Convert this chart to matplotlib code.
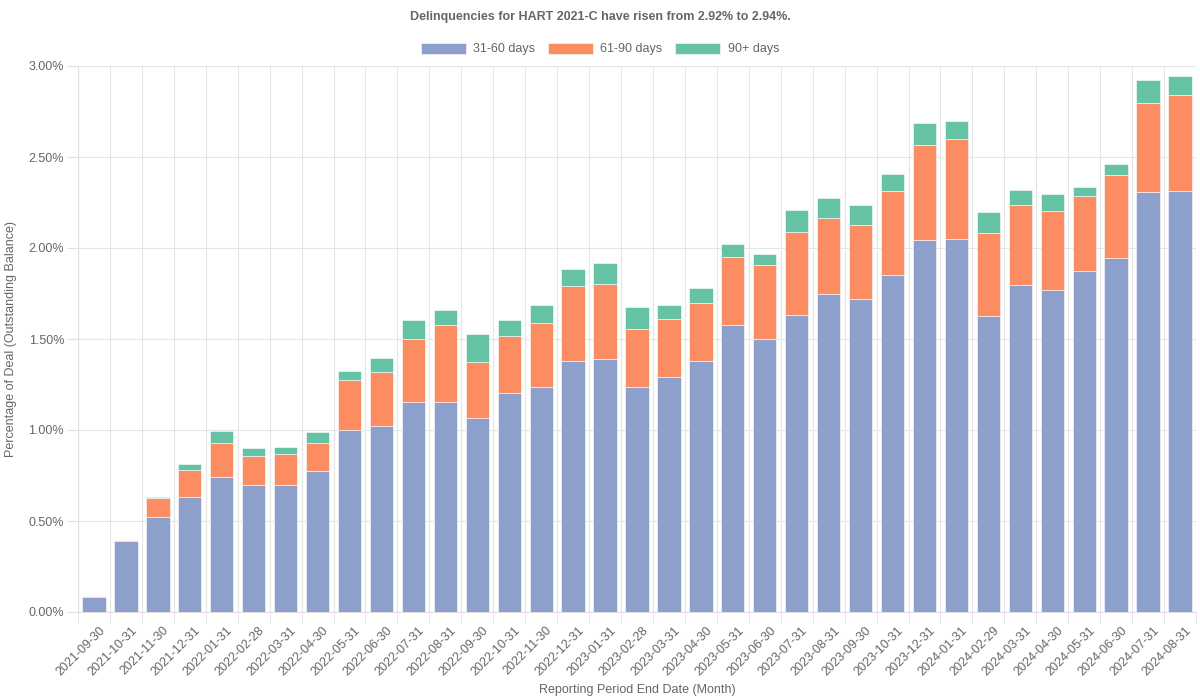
import numpy as np
import matplotlib.pyplot as plt
from matplotlib.ticker import FuncFormatter, MultipleLocator

plt.rcParams['font.family'] = ['Liberation Sans', 'DejaVu Sans']

#---------------------------------------------------------------------------------------------
# Data (percent of outstanding balance)
dates = ["2021-09-30", "2021-10-31", "2021-11-30", "2021-12-31", "2022-01-31", "2022-02-28",
         "2022-03-31", "2022-04-30", "2022-05-31", "2022-06-30", "2022-07-31", "2022-08-31",
         "2022-09-30", "2022-10-31", "2022-11-30", "2022-12-31", "2023-01-31", "2023-02-28",
         "2023-03-31", "2023-04-30", "2023-05-31", "2023-06-30", "2023-07-31", "2023-08-31",
         "2023-09-30", "2023-10-31", "2023-12-31", "2024-01-31", "2024-02-29", "2024-03-31",
         "2024-04-30", "2024-05-31", "2024-06-30", "2024-07-31", "2024-08-31"]

d31_60 = [0.082, 0.390, 0.520, 0.632, 0.742, 0.698, 0.698, 0.775, 1.000, 1.022, 1.154, 1.154,
          1.066, 1.203, 1.236, 1.379, 1.390, 1.236, 1.290, 1.379, 1.577, 1.500, 1.632, 1.747,
          1.720, 1.852, 2.044, 2.050, 1.626, 1.797, 1.769, 1.874, 1.945, 2.308, 2.313]

d61_90 = [0.006, 0.006, 0.106, 0.148, 0.187, 0.159, 0.170, 0.154, 0.275, 0.297, 0.346, 0.423,
          0.308, 0.313, 0.352, 0.411, 0.410, 0.319, 0.320, 0.319, 0.373, 0.407, 0.456, 0.418,
          0.406, 0.461, 0.522, 0.549, 0.456, 0.439, 0.434, 0.412, 0.455, 0.489, 0.527]

d90p = [0.000, 0.000, 0.004, 0.033, 0.066, 0.043, 0.038, 0.061, 0.049, 0.077, 0.104, 0.083,
        0.153, 0.088, 0.099, 0.095, 0.118, 0.121, 0.077, 0.082, 0.072, 0.060, 0.121, 0.110,
        0.110, 0.094, 0.121, 0.099, 0.116, 0.083, 0.094, 0.049, 0.062, 0.126, 0.105]

#---------------------------------------------------------------------------------------------
# Plot
blue = "#8da0cb"
orange = "#fc8d62"
green = "#66c2a5"
txt = "#666666"

fig = plt.figure(figsize=(12, 7), dpi=100)
ax = fig.add_axes([78/1200, 1 - 612/700, (1196-78)/1200, (612-66)/700])

x = np.arange(len(dates))
a = np.array(d31_60)
b = np.array(d61_90)
c = np.array(d90p)
w = 0.73
ax.bar(x, a, w, color=blue, label="31-60 days", edgecolor="#ffffff", linewidth=0.4, zorder=3)
ax.bar(x, b, w, bottom=a, color=orange, label="61-90 days", edgecolor="#ffffff", linewidth=0.4, zorder=3)
ax.bar(x, c, w, bottom=a + b, color=green, label="90+ days", edgecolor="#ffffff", linewidth=0.4, zorder=3)

ax.set_xlim(-0.5, len(dates) - 0.5)
ax.set_ylim(0, 3.0)
ax.yaxis.set_major_locator(MultipleLocator(0.5))
ax.yaxis.set_major_formatter(FuncFormatter(lambda v, p: "%.2f%%" % v))

ax.set_xticks(x + 0.15)
ax.set_xticklabels(dates, rotation=45, ha="right", rotation_mode="anchor")
ax.set_xticks(np.arange(len(dates) + 1) - 0.5, minor=True)
ax.tick_params(axis="x", which="major", length=0, pad=9, labelsize=9, labelcolor=txt)
ax.tick_params(axis="x", which="minor", length=8, color="#e0e0e0")
ax.tick_params(axis="y", length=8, color="#e0e0e0", labelsize=9, labelcolor=txt, pad=2)

ax.grid(axis="y", which="major", color="#e5e5e5", linewidth=0.8, zorder=0)
ax.grid(axis="x", which="minor", color="#e5e5e5", linewidth=0.8, zorder=0)
for s in ["top", "right"]:
    ax.spines[s].set_visible(False)
ax.spines["left"].set_color("#e0e0e0")
ax.spines["bottom"].set_color("#e0e0e0")

ax.set_ylabel("Percentage of Deal (Outstanding Balance)", color=txt, fontsize=9, labelpad=8)
ax.set_xlabel("Reporting Period End Date (Month)", color=txt, fontsize=9, labelpad=4)

fig.suptitle("Delinquencies for HART 2021-C have risen from 2.92% to 2.94%.",
             y=1 - 17/700, va="center", fontsize=9, fontweight="bold", color=txt)
leg = fig.legend(loc="center", bbox_to_anchor=(0.5, 1 - 49/700), ncol=3, frameon=False,
                 fontsize=9, handlelength=3.6, handleheight=1.0, columnspacing=1.0,
                 handletextpad=0.6)
for t in leg.get_texts():
    t.set_color(txt)

fig.savefig("out.png", dpi=100)
